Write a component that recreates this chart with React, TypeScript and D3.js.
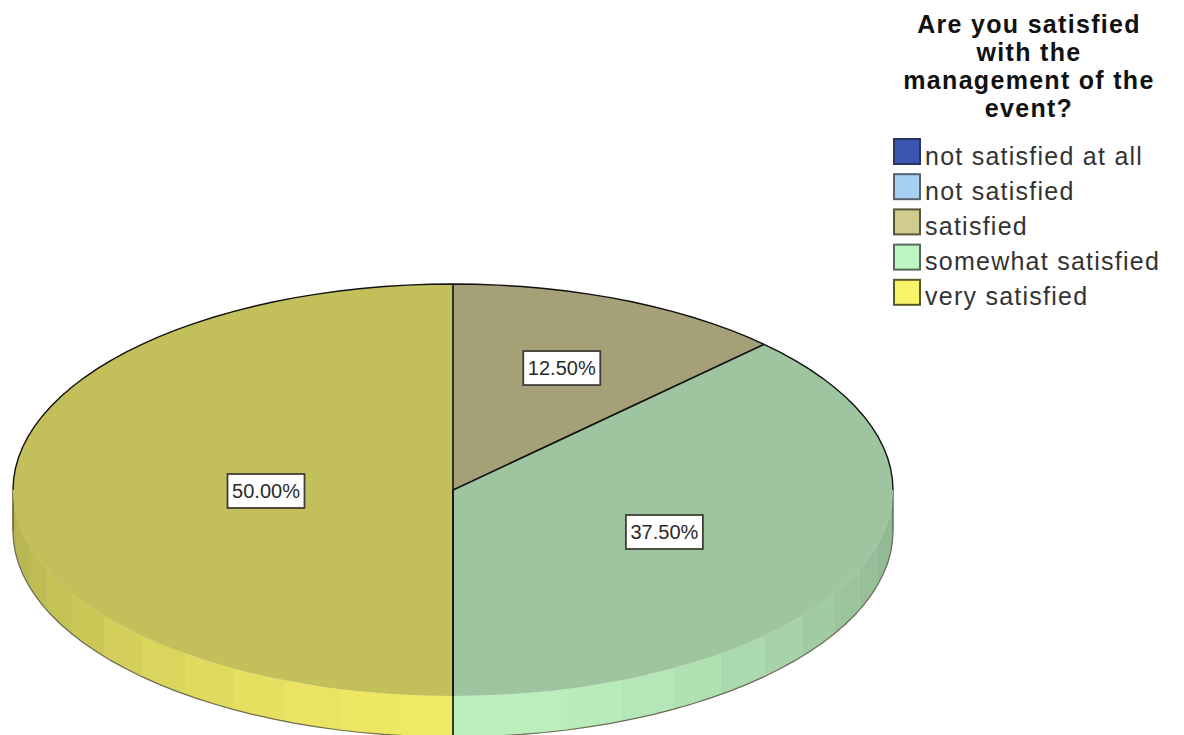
import React from "react";
import * as d3 from "d3";

const title = ["Are you satisfied", "with the", "management of the", "event?"];
const legendLabels = ["not satisfied at all", "not satisfied", "satisfied", "somewhat satisfied", "very satisfied"];
const legendColors = ["#3a55b2", "#a8d0f2", "#d2cb8e", "#bff4c3", "#f8f368"];
const legendStrokes = ["#2a3560", "#55626e", "#57553c", "#55695a", "#5a5826"];

const sliceLabels = ["satisfied", "somewhat satisfied", "very satisfied"];
const sliceValues = [12.5, 37.5, 50];
const topColors = ["#a5a077", "#9ec4a0", "#c3c05b"];
const rimBright = ["#d0cb90", "#bbf0be", "#efe964"];
const rimDark = ["#8f8b66", "#90b592", "#b5b350"];
const labelRadii = [0.646, 0.52, 0.425];

const cx = 453;
const cy = 490;
const rx = 440;
const ry = 206;
const depth = 41;
const facetStep = Math.PI / 24;

const project = (a: number, drop = 0): [number, number] => [
  cx + rx * Math.sin(a),
  cy - ry * Math.cos(a) + drop,
];

const line = d3.line();

// Samples an elliptical arc as a polyline; angles run clockwise from the top.
const arcPoints = (a0: number, a1: number, drop = 0) =>
  d3.range(0, 61).map((i) => project(a0 + ((a1 - a0) * i) / 60, drop));

export default function App() {
  const arcs = d3.pie<number>().sort(null)(sliceValues);
  const arcGen = d3.arc<d3.PieArcDatum<number>>().innerRadius(0).outerRadius(rx);

  // The rim is a ring of flat facets, brightest facing the viewer.
  const facets: { d: string; fill: string }[] = [];
  arcs.forEach((s, i) => {
    const from = Math.max(s.startAngle, Math.PI / 2);
    const to = Math.min(s.endAngle, (3 * Math.PI) / 2);
    if (to <= from) return;
    const shade = d3.interpolateRgb(rimDark[i], rimBright[i]);
    let a = from;
    while (a < to - 1e-6) {
      const b = Math.min(to, Math.floor(a / facetStep + 1.0001) * facetStep);
      const mid = (a + b) / 2;
      const t = Math.pow(Math.abs(Math.cos(mid)), 1.6);
      const pts = [...arcPoints(a, b), ...arcPoints(a, b, depth).reverse()];
      facets.push({ d: (line(pts) as string) + "Z", fill: shade(t) });
      a = b;
    }
  });

  const boundaries = arcs.map((s) => s.startAngle);

  const labelBoxes = arcs.map((s, i) => {
    const mid = (s.startAngle + s.endAngle) / 2;
    return {
      x: cx + rx * labelRadii[i] * Math.sin(mid),
      y: cy - ry * labelRadii[i] * Math.cos(mid),
      text: `${s.value.toFixed(2)}%`,
    };
  });

  return (
    <svg
      width={1184}
      height={735}
      style={{ position: "absolute", left: 0, top: 0, background: "#fff" }}
      fontFamily="'Liberation Sans', Arial, sans-serif"
    >
      {facets.map((f, i) => (
        <path key={i} d={f.d} fill={f.fill} stroke={f.fill} strokeWidth={0.5} />
      ))}
      <path
        d={line(arcPoints(Math.PI / 2, (3 * Math.PI) / 2, depth)) as string}
        fill="none"
        stroke="#6c6c58"
        strokeWidth={1.2}
      />
      <path d={`M${cx - rx},${cy}V${cy + depth}`} stroke="#55553a" strokeWidth={1.4} />
      <path d={`M${cx + rx},${cy}V${cy + depth}`} stroke="#55705a" strokeWidth={1.4} />

      <g transform={`translate(${cx},${cy}) scale(1,${ry / rx})`}>
        {arcs.map((s, i) => (
          <path key={sliceLabels[i]} d={arcGen(s) as string} fill={topColors[i]} />
        ))}
      </g>

      <path
        d={line(arcPoints(-Math.PI / 2, Math.PI / 2)) as string}
        fill="none"
        stroke="#111"
        strokeWidth={1.4}
      />
      {boundaries.map((a, i) => {
        const [x, y] = project(a);
        return <line key={i} x1={cx} y1={cy} x2={x} y2={y} stroke="#111" strokeWidth={1.6} />;
      })}
      <line x1={cx} y1={cy} x2={cx} y2={cy + ry + depth} stroke="#111" strokeWidth={1.6} />

      {labelBoxes.map((b) => (
        <g key={b.text}>
          <rect
            x={b.x - 38.5}
            y={b.y - 16}
            width={77}
            height={34}
            fill="#fff"
            stroke="#3f3f36"
            strokeWidth={1.8}
          />
          <text x={b.x} y={b.y + 8} fontSize={20} textAnchor="middle" fill="#2a2a2a">
            {b.text}
          </text>
        </g>
      ))}

      <text fontSize={25} fontWeight="bold" textAnchor="middle" fill="#111" letterSpacing={1.3}>
        {title.map((t, i) => (
          <tspan key={t} x={1029} y={33 + i * 28}>
            {t}
          </tspan>
        ))}
      </text>

      {legendLabels.map((label, i) => {
        const y = 139 + i * 35.2;
        return (
          <g key={label}>
            <rect
              x={894}
              y={y}
              width={26}
              height={25}
              fill={legendColors[i]}
              stroke={legendStrokes[i]}
              strokeWidth={2}
            />
            <text x={925} y={y + 25.5} fontSize={25} letterSpacing={1.25} fill="#333">
              {label}
            </text>
          </g>
        );
      })}
    </svg>
  );
}
